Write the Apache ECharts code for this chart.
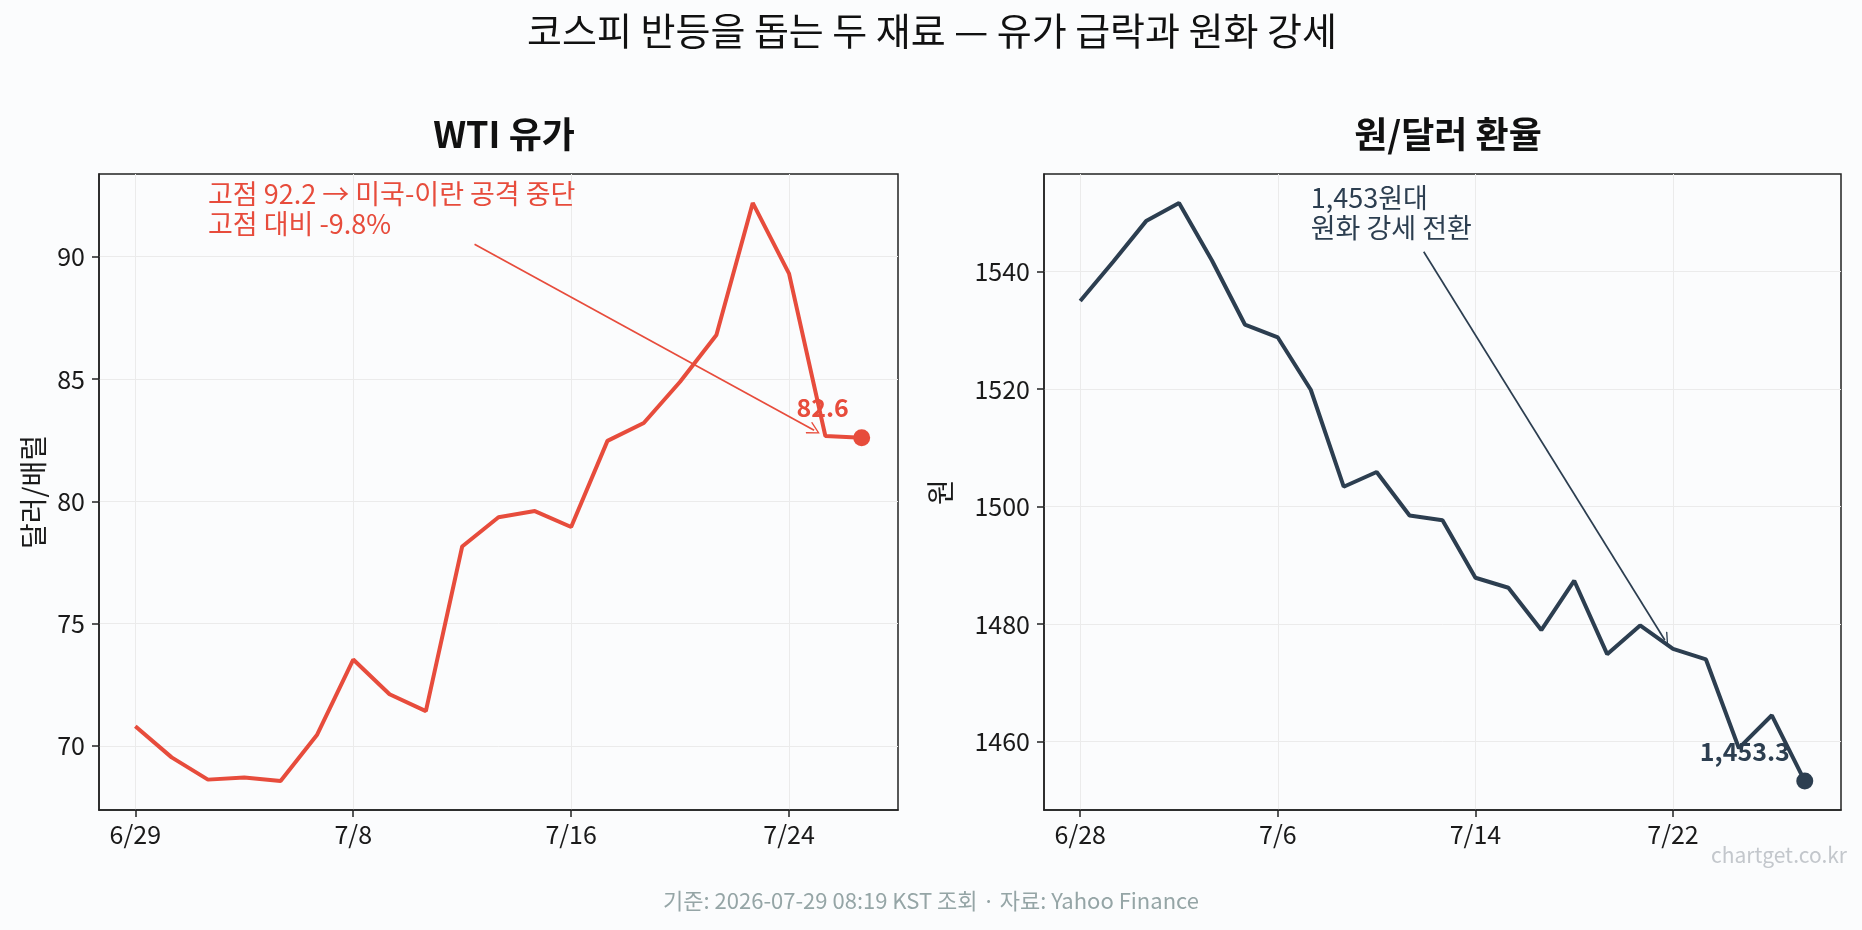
<!DOCTYPE html>
<html>
<head>
<meta charset="utf-8">
<script src="https://cdn.jsdelivr.net/npm/echarts@6/dist/echarts.min.js"></script>
<style>
  html, body { margin: 0; padding: 0; background: #fbfcfd; }
  #chart { width: 1862px; height: 930px; }
</style>
</head>
<body>
<div id="chart"></div>
<script>
// WTI (trading days)
var wtiDates = ['6/29', '6/30', '7/1', '7/2', '7/6', '7/7', '7/8', '7/9', '7/10', '7/13', '7/14',
  '7/15', '7/16', '7/17', '7/20', '7/21', '7/22', '7/23', '7/24', '7/27', '7/28'];
var wtiValues = [70.8, 69.53, 68.62, 68.71, 68.56, 70.44, 73.53, 72.11, 71.42, 78.15, 79.35,
  79.6, 78.95, 82.47, 83.2, 84.89, 86.8, 92.2, 89.31, 82.67, 82.6];
var wtiXTicks = [0, 6, 12, 18];
var wtiYTicks = [70, 75, 80, 85, 90];

// KRW per USD
var fxDates = ['6/28', '6/29', '6/30', '7/1', '7/2', '7/3', '7/6', '7/7', '7/8', '7/9', '7/10', '7/13',
  '7/14', '7/15', '7/16', '7/17', '7/20', '7/21', '7/22', '7/23', '7/24', '7/27', '7/28'];
var fxValues = [1535.0, 1541.7, 1548.6, 1551.7, 1541.9, 1531.0, 1528.8, 1519.9, 1503.4, 1505.9, 1498.5, 1497.7,
  1487.9, 1486.2, 1479.0, 1487.4, 1474.9, 1479.8, 1475.8, 1474.0, 1458.9, 1464.5, 1453.3];
var fxXTicks = [0, 6, 12, 18];
var fxYTicks = [1460, 1480, 1500, 1520, 1540];

// annotations (data coords)
var wtiNote = '고점 92.2 → 미국-이란 공격 중단\n고점 대비 -9.8%';
var wtiNoteAt = [2, 91.95];
var wtiArrowFrom = [9.34, 90.51];
var wtiArrowTo = [18.69, 82.9];
var fxNote = '1,453원대\n원화 강세 전환';
var fxNoteAt = [7, 1550];
var fxArrowFrom = [10.43, 1543.4];
var fxArrowTo = [17.75, 1477.3];

var FONT = "'Noto Sans CJK KR', 'Noto Sans', sans-serif";
var RED = '#e74c3c';
var NAVY = '#2c3e50';
var INK = '#1a1a1a';
var GRIDLINE = '#ebebeb';
var ARROW = 'path://M10,0 L20,16 L18.4,17.2 L10,3.6 L1.6,17.2 L0,16 Z';

function padMin(e) { return e.min - 0.05 * (e.max - e.min); }
function padMax(e) { return e.max + 0.05 * (e.max - e.min); }

function xAxisOpt(gridIndex, dates, ticks) {
  return {
    type: 'value', gridIndex: gridIndex,
    min: padMin, max: padMax,
    axisLine: { show: true, onZero: false, lineStyle: { color: '#222', width: 1.5 } },
    axisTick: { show: true, customValues: ticks, length: 7, lineStyle: { color: '#222', width: 1.5 } },
    axisLabel: {
      customValues: ticks, color: INK, fontSize: 25, margin: 12, fontFamily: FONT,
      formatter: function(v) { return dates[v]; }
    },
    splitLine: { show: true, lineStyle: { color: GRIDLINE, width: 1 } }
  };
}

function yAxisOpt(gridIndex, ticks, name, gap) {
  return {
    type: 'value', gridIndex: gridIndex,
    min: padMin, max: padMax,
    name: name, nameLocation: 'middle', nameGap: gap,
    nameTextStyle: { color: INK, fontSize: 28, fontFamily: FONT },
    axisLine: { show: true, onZero: false, lineStyle: { color: '#222', width: 1.5 } },
    axisTick: { show: true, customValues: ticks, length: 7, lineStyle: { color: '#222', width: 1.5 } },
    axisLabel: {
      customValues: ticks, color: INK, fontSize: 25, margin: 14, fontFamily: FONT,
      formatter: function(v) { return String(v); }
    },
    splitLine: { show: true, lineStyle: { color: GRIDLINE, width: 1 } }
  };
}

function lineSeries(idx, values, color, note, noteAt, from, to) {
  return {
    type: 'line', xAxisIndex: idx, yAxisIndex: idx,
    data: values.map(function(v, i) { return [i, v]; }),
    symbol: 'none',
    lineStyle: { color: color, width: 4 },
    z: 3,
    markLine: {
      silent: true, animation: false,
      symbol: ['none', ARROW], symbolSize: 13,
      label: { show: false },
      lineStyle: { color: color, width: 1.7, type: 'solid' },
      emphasis: { disabled: true },
      data: [[{ coord: from }, { coord: to }]]
    },
    markPoint: {
      silent: true, animation: false,
      symbol: 'circle', symbolSize: 1,
      itemStyle: { color: 'rgba(0,0,0,0)' },
      label: {
        show: true, position: 'inside', formatter: note,
        align: 'left', verticalAlign: 'middle',
        color: color, fontSize: 27, lineHeight: 30, fontFamily: FONT
      },
      data: [{ coord: noteAt }]
    }
  };
}

function lastDot(idx, values, color, text, offset) {
  var n = values.length - 1;
  return {
    type: 'scatter', xAxisIndex: idx, yAxisIndex: idx,
    data: [[n, values[n]]],
    symbolSize: 17,
    itemStyle: { color: color, opacity: 1 },
    z: 4,
    label: {
      show: true, position: 'inside', offset: offset,
      formatter: text,
      color: color, fontSize: 25, fontWeight: 'bold', fontFamily: FONT
    }
  };
}

var chart = echarts.init(document.getElementById('chart'), null, { renderer: 'canvas' });
chart.setOption({
  animation: false,
  backgroundColor: '#fbfcfd',
  textStyle: { fontFamily: FONT },
  title: [
    { text: '코스피 반등을 돕는 두 재료 — 유가 급락과 원화 강세', left: 927, textAlign: 'center', top: 7,
      textStyle: { fontSize: 38, fontWeight: 'normal', color: '#111', fontFamily: FONT } },
    { text: 'WTI 유가', left: 499, textAlign: 'center', top: 111,
      textStyle: { fontSize: 36, fontWeight: 'bold', color: '#111', fontFamily: FONT } },
    { text: '원/달러 환율', left: 1443, textAlign: 'center', top: 111,
      textStyle: { fontSize: 36, fontWeight: 'bold', color: '#111', fontFamily: FONT } }
  ],
  grid: [
    { left: 99, width: 799, top: 174, height: 636, show: true, borderColor: '#222', borderWidth: 1.5,
      backgroundColor: 'transparent' },
    { left: 1044, width: 797, top: 174, height: 636, show: true, borderColor: '#222', borderWidth: 1.5,
      backgroundColor: 'transparent' }
  ],
  xAxis: [xAxisOpt(0, wtiDates, wtiXTicks), xAxisOpt(1, fxDates, fxXTicks)],
  yAxis: [yAxisOpt(0, wtiYTicks, '달러/배럴', 52), yAxisOpt(1, fxYTicks, '원', 90)],
  series: [
    lineSeries(0, wtiValues, RED, wtiNote, wtiNoteAt, wtiArrowFrom, wtiArrowTo),
    lastDot(0, wtiValues, RED, wtiValues[wtiValues.length - 1].toFixed(1), [-39, -30]),
    lineSeries(1, fxValues, NAVY, fxNote, fxNoteAt, fxArrowFrom, fxArrowTo),
    lastDot(1, fxValues, NAVY,
      fxValues[fxValues.length - 1].toLocaleString('en-US', { minimumFractionDigits: 1, maximumFractionDigits: 1 }),
      [-60, -30])
  ],
  graphic: [
    { type: 'text', left: 'center', top: 890,
      style: { text: '기준: 2026-07-29 08:19 KST 조회 · 자료: Yahoo Finance', fontSize: 22, fontFamily: FONT, fill: '#95a5a6' } },
    { type: 'text', right: 15, top: 845,
      style: { text: 'chartget.co.kr', fontSize: 21, fontFamily: FONT, fill: '#c3c7cc' } }
  ]
});
</script>
</body>
</html>
